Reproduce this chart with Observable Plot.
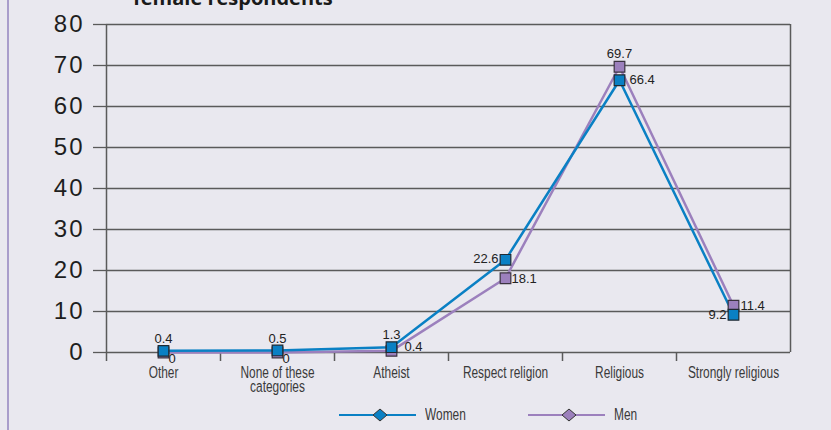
<!DOCTYPE html>
<html>
<head>
<meta charset="utf-8">
<script src="https://cdn.jsdelivr.net/npm/d3@7"></script>
<script src="https://cdn.jsdelivr.net/npm/@observablehq/plot@0.6"></script>
<style>
  html, body { margin: 0; padding: 0; background: #e9e8ef; }
  #chart {
    position: relative; width: 831px; height: 430px; overflow: hidden;
    background: #e9e8ef; font-family: "Liberation Sans", Arial, sans-serif;
  }
  #chart .frame-left {
    position: absolute; left: 7px; top: 0; width: 2px; height: 430px; background: #a99dcb;
  }
  #chart h2 {
    position: absolute; left: 133px; top: -16px; margin: 0;
    font: bold 20px "Open Sans", "Liberation Sans", sans-serif; color: #1a1a1a; white-space: nowrap;
  }
  #chart svg.plot { position: absolute; left: 0; top: 0; }
  #chart svg.plot g[aria-label="y-axis tick label"] { letter-spacing: 2px; }
  #legend {
    position: absolute; left: 0; top: 405px; width: 831px; height: 20px;
    font: 17px "Liberation Sans", Arial, sans-serif; color: #3a3a3a;
  }
  #legend .item { position: absolute; top: 0; height: 20px; display: flex; align-items: center; }
  #legend .item span { margin-left: 8px; display: inline-block; transform: scaleX(0.7); transform-origin: left center; }
</style>
</head>
<body>
<div id="chart">
  <div class="frame-left"></div>
  <h2>female respondents</h2>
  <div id="legend"></div>
</div>
<script>
// Religiosity self-description, percentage of respondents
const categories = ["Other", "None of these\ncategories", "Atheist", "Respect religion", "Religious", "Strongly religious"];
const women = [0.4, 0.5, 1.3, 22.6, 66.4, 9.2];
const men = [0, 0, 0.4, 18.1, 69.7, 11.4];
const seriesNames = ["Women", "Men"];
const seriesColors = ["#0a80c4", "#9c80bd"];
const yTicks = [0, 10, 20, 30, 40, 50, 60, 70, 80];

const rows = [];
categories.forEach((c, i) => {
  rows.push({series: "Men", i, value: men[i]});
  rows.push({series: "Women", i, value: women[i]});
});
const menRows = rows.filter(d => d.series === "Men");
const womenRows = rows.filter(d => d.series === "Women");

// value label placement per point
const labelPlace = {
  Women: [
    {anchor: "middle", dx: 0, dy: -12},
    {anchor: "middle", dx: 0, dy: -12},
    {anchor: "middle", dx: 0, dy: -12},
    {anchor: "end", dx: -7, dy: -1},
    {anchor: "start", dx: 10, dy: 0},
    {anchor: "end", dx: -7, dy: 0}
  ],
  Men: [
    {anchor: "start", dx: 5, dy: 6},
    {anchor: "start", dx: 5, dy: 6},
    {anchor: "start", dx: 13, dy: -4},
    {anchor: "start", dx: 6, dy: 1},
    {anchor: "middle", dx: 0, dy: -13},
    {anchor: "start", dx: 7, dy: 0}
  ]
};
function labelMarks(data, name) {
  return data.map(d => {
    const p = labelPlace[name][d.i];
    return Plot.text([d], {
      x: "i", y: "value", text: r => String(r.value),
      textAnchor: p.anchor, dx: p.dx, dy: p.dy,
      fill: "#222", fontSize: 13, fontFamily: "Liberation Sans, Arial, sans-serif"
    });
  });
}

const axisColor = "#5a5a5a";
const plot = Plot.plot({
  width: 831,
  height: 395,
  marginTop: 24,
  marginBottom: 43,
  marginLeft: 106,
  marginRight: 41,
  style: {background: "transparent", overflow: "visible"},
  x: {type: "linear", domain: [-0.5, categories.length - 0.5]},
  y: {domain: [0, 80]},
  marks: [
    // horizontal gridlines
    Plot.ruleY(yTicks, {x1: -0.5, x2: categories.length - 0.5, stroke: axisColor, strokeWidth: 1.3}),
    Plot.axisY(yTicks, {tickSize: 13, tickPadding: 9, stroke: axisColor, strokeWidth: 1.3,
      fontSize: 24, fill: "#1e1e1e", fontFamily: "Liberation Sans, Arial, sans-serif", label: null}),
    // left axis line and right frame
    Plot.ruleX([-0.5], {y1: -2.2, y2: 80, stroke: axisColor, strokeWidth: 1.5}),
    Plot.ruleX([categories.length - 0.5], {y1: 0, y2: 80, stroke: axisColor, strokeWidth: 1.5}),
    // category boundary ticks below the axis
    Plot.ruleX(d3.range(0.5, categories.length - 1, 1), {y1: -2.2, y2: 0, stroke: axisColor, strokeWidth: 1.5}),
    Plot.axisX(d3.range(categories.length), {tickSize: 0, tickPadding: 16, tickFormat: i => categories[i],
      fontSize: 17, fill: "#3a3a3a", lineHeight: 0.8, label: null,
      fontFamily: "Liberation Sans, Arial, sans-serif"}),
    // series lines and square markers
    Plot.line(menRows, {x: "i", y: "value", stroke: seriesColors[1], strokeWidth: 2.5}),
    Plot.line(womenRows, {x: "i", y: "value", stroke: seriesColors[0], strokeWidth: 2.5}),
    Plot.dot(menRows, {x: "i", y: "value", symbol: "square", r: 6, fill: seriesColors[1], stroke: "#3b3340", strokeWidth: 1.2}),
    Plot.dot(womenRows, {x: "i", y: "value", symbol: "square", r: 6, fill: seriesColors[0], stroke: "#1f2a33", strokeWidth: 1.2}),
    ...labelMarks(menRows, "Men"),
    ...labelMarks(womenRows, "Women")
  ]
});
plot.classList.add("plot");
const chart = document.getElementById("chart");
chart.insertBefore(plot, document.getElementById("legend"));

// condensed category labels: squeeze each label horizontally about its anchor
d3.select(plot).selectAll('g[aria-label="x-axis tick label"] text').each(function() {
  const t = this.getAttribute("transform") || "";
  this.setAttribute("transform", t + " scale(0.7,1)");
});

// legend: line with diamond marker for each series
const legend = document.getElementById("legend");
const legendLeft = [339, 528];
seriesNames.forEach((name, k) => {
  const item = document.createElement("div");
  item.className = "item";
  item.style.left = legendLeft[k] + "px";
  const ns = "http://www.w3.org/2000/svg";
  const s = document.createElementNS(ns, "svg");
  s.setAttribute("width", 78); s.setAttribute("height", 20);
  const ln = document.createElementNS(ns, "line");
  ln.setAttribute("x1", 0); ln.setAttribute("x2", 77); ln.setAttribute("y1", 10); ln.setAttribute("y2", 10);
  ln.setAttribute("stroke", seriesColors[k]); ln.setAttribute("stroke-width", 2);
  const dm = document.createElementNS(ns, "path");
  dm.setAttribute("d", "M41,4 L48,10 L41,16 L34,10 Z");
  dm.setAttribute("fill", seriesColors[k]); dm.setAttribute("stroke", "#333"); dm.setAttribute("stroke-width", 1);
  s.appendChild(ln); s.appendChild(dm);
  const t = document.createElement("span");
  t.textContent = name;
  item.appendChild(s); item.appendChild(t);
  legend.appendChild(item);
});
</script>
</body>
</html>
